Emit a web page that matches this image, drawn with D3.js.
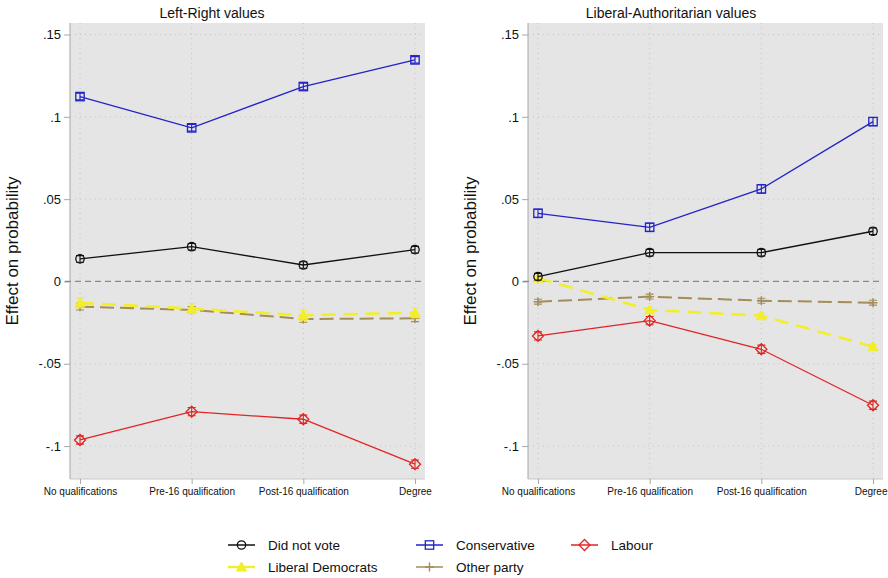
<!DOCTYPE html>
<html>
<head>
<meta charset="utf-8">
<script src="https://cdn.jsdelivr.net/npm/d3@7"></script>
<style>
  html, body { margin: 0; padding: 0; background: #fff; }
  svg { display: block; font-family: "Liberation Sans", Arial, Helvetica, sans-serif; }
</style>
</head>
<body>
<svg id="chart" width="888" height="578"></svg>
<script>
// Education categories along the x axis
const categories = ["No qualifications", "Pre-16 qualification", "Post-16 qualification", "Degree"];
const yTicks = [-0.1, -0.05, 0, 0.05, 0.1, 0.15];
const yTickLabels = ["-.1", "-.05", "0", ".05", ".1", ".15"];
const panelTitles = ["Left-Right values", "Liberal-Authoritarian values"];
const seriesNames = ["Did not vote", "Conservative", "Labour", "Liberal Democrats", "Other party"];

// Left-Right values: effect on probability by party
const lrDidNotVote = [0.0137, 0.0211, 0.0100, 0.0193];
const lrConservative = [0.1123, 0.0933, 0.1184, 0.1346];
const lrLabour = [-0.0963, -0.0791, -0.0837, -0.1110];
const lrLibDem = [-0.0130, -0.0165, -0.0205, -0.0190];
const lrOther = [-0.0153, -0.0173, -0.0228, -0.0224];

// Liberal-Authoritarian values: effect on probability by party
const laDidNotVote = [0.0029, 0.0175, 0.0175, 0.0305];
const laConservative = [0.0414, 0.0329, 0.0562, 0.0971];
const laLabour = [-0.0331, -0.0238, -0.0412, -0.0752];
const laLibDem = [0.0020, -0.0173, -0.0208, -0.0396];
const laOther = [-0.0123, -0.0092, -0.0117, -0.0129];

// 95% confidence half-widths
const lrCI = [0.0020, 0.0020, 0.0025, 0.0030, 0.0020];
const laCI = [0.0020, 0.0025, 0.0025, 0.0015, 0.0015];

const styles = {
  "Did not vote":      { color: "#111111", symbol: "circle",   dash: null,    width: 1.3 },
  "Conservative":      { color: "#2323c8", symbol: "square",   dash: null,    width: 1.3 },
  "Labour":            { color: "#e02424", symbol: "diamond",  dash: null,    width: 1.3 },
  "Liberal Democrats": { color: "#f2ee2a", symbol: "triangle", dash: "14,8",  width: 2.6 },
  "Other party":       { color: "#a48d58", symbol: "plus",     dash: "14,6",  width: 2.0 }
};

const panels = [
  { title: panelTitles[0], left: 70, right: 425, titleX: 212,
    series: [lrDidNotVote, lrConservative, lrLabour, lrLibDem, lrOther], ci: lrCI },
  { title: panelTitles[1], left: 528, right: 883, titleX: 671,
    series: [laDidNotVote, laConservative, laLabour, laLibDem, laOther], ci: laCI }
];

const svg = d3.select("#chart");
const width = +svg.attr("width");
const plotTop = 23, plotBottom = 479;
const y = d3.scaleLinear().domain([-0.12, 0.157]).range([plotBottom, plotTop]);

function drawMarker(g, sym, cx, cy, color) {
  if (sym === "circle") {
    g.append("circle").attr("cx", cx).attr("cy", cy).attr("r", 4.2)
      .attr("fill", "none").attr("stroke", color).attr("stroke-width", 1.3);
  } else if (sym === "square") {
    g.append("rect").attr("x", cx - 4.2).attr("y", cy - 4.2).attr("width", 8.4).attr("height", 8.4)
      .attr("fill", "none").attr("stroke", color).attr("stroke-width", 1.3);
  } else if (sym === "diamond") {
    g.append("path").attr("d", `M${cx},${cy - 5.5}L${cx + 5.5},${cy}L${cx},${cy + 5.5}L${cx - 5.5},${cy}Z`)
      .attr("fill", "none").attr("stroke", color).attr("stroke-width", 1.3);
  } else if (sym === "triangle") {
    g.append("path").attr("d", `M${cx},${cy - 5}L${cx + 5},${cy + 4}L${cx - 5},${cy + 4}Z`)
      .attr("fill", color).attr("stroke", color).attr("stroke-width", 1);
  } else if (sym === "plus") {
    g.append("path").attr("d", `M${cx - 4.5},${cy}H${cx + 4.5}M${cx},${cy - 4.5}V${cy + 4.5}`)
      .attr("fill", "none").attr("stroke", color).attr("stroke-width", 1.4);
  }
}

panels.forEach(p => {
  const x = d3.scalePoint().domain(categories).range([p.left + 10, p.right - 10]);
  const g = svg.append("g");

  // plot region
  g.append("rect").attr("x", p.left).attr("y", plotTop)
    .attr("width", p.right - p.left).attr("height", plotBottom - plotTop).attr("fill", "#e5e5e5");

  // dotted grid
  g.append("g").selectAll("line").data(yTicks).join("line")
    .attr("x1", p.left).attr("x2", p.right)
    .attr("y1", d => y(d)).attr("y2", d => y(d))
    .attr("stroke", d => d === 0 ? "none" : "#c4c4c4").attr("stroke-width", 1)
    .attr("stroke-dasharray", "1,4");
  g.append("g").selectAll("line").data(categories).join("line")
    .attr("x1", d => x(d)).attr("x2", d => x(d))
    .attr("y1", plotTop).attr("y2", plotBottom)
    .attr("stroke", "#c4c4c4").attr("stroke-width", 1).attr("stroke-dasharray", "1,4");

  // y axis
  const yAxis = d3.axisLeft(y).tickValues(yTicks).tickSize(6).tickPadding(3)
    .tickFormat((d, i) => yTickLabels[i]);
  const ya = g.append("g").attr("transform", `translate(${p.left},0)`).call(yAxis);
  ya.select(".domain").attr("stroke", "#a8a8a8").attr("d", `M0,${plotTop}V${plotBottom}`);
  ya.selectAll(".tick line").attr("stroke", "#a8a8a8");
  ya.selectAll(".tick text").attr("font-size", 13).attr("fill", "#111")
    .attr("font-family", "Liberation Sans, Arial, sans-serif");

  // x axis
  const xAxis = d3.axisBottom(x).tickSize(5).tickPadding(4);
  const xa = g.append("g").attr("transform", `translate(0,${plotBottom})`).call(xAxis);
  xa.select(".domain").attr("stroke", "#c8c8c8").attr("d", `M${p.left},0H${p.right}`);
  xa.selectAll(".tick line").attr("stroke", "#a8a8a8");
  xa.selectAll(".tick text").attr("font-size", 10).attr("fill", "#111")
    .attr("font-family", "Liberation Sans, Arial, sans-serif");
  // keep the last label inside the page
  xa.selectAll(".tick").each(function (d) {
    const t = d3.select(this).select("text");
    const w = t.node().getComputedTextLength();
    const over = x(d) + w / 2 - (width - 1);
    if (over > 0) t.attr("dx", -over);
  });

  // zero reference line
  g.append("line").attr("x1", p.left - 5).attr("x2", p.right)
    .attr("y1", y(0)).attr("y2", y(0))
    .attr("stroke", "#8a8a8a").attr("stroke-width", 1.2).attr("stroke-dasharray", "6,4");

  // titles
  g.append("text").attr("x", p.titleX).attr("y", 18).attr("text-anchor", "middle")
    .attr("font-size", 14).attr("fill", "#111").text(p.title);
  g.append("text").attr("transform", `translate(${p.left - 52},${(plotTop + plotBottom) / 2}) rotate(-90)`)
    .attr("text-anchor", "middle").attr("font-size", 17).attr("fill", "#111")
    .text("Effect on probability");

  // series (dashed lines underneath the solid ones)
  const order = [4, 3, 0, 1, 2];
  const line = d3.line().x((d, i) => x(categories[i])).y(d => y(d));
  order.forEach(si => {
    const name = seriesNames[si];
    const st = styles[name];
    const vals = p.series[si];
    const sg = g.append("g");
    sg.append("path").datum(vals).attr("d", line)
      .attr("fill", "none").attr("stroke", st.color).attr("stroke-width", st.width)
      .attr("stroke-dasharray", st.dash);
    vals.forEach((v, i) => {
      const cx = x(categories[i]), cy = y(v);
      const h = p.ci[si];
      const y0 = y(v - h), y1 = y(v + h);
      sg.append("path")
        .attr("d", `M${cx},${y1}V${y0}M${cx - 4},${y1}H${cx + 4}M${cx - 4},${y0}H${cx + 4}`)
        .attr("stroke", st.color).attr("stroke-width", 1.1).attr("fill", "none");
      drawMarker(sg, st.symbol, cx, cy, st.color);
    });
  });
});

// legend
const legendItems = [
  { name: seriesNames[0], x: 228, y: 545 },
  { name: seriesNames[1], x: 416, y: 545 },
  { name: seriesNames[2], x: 571, y: 545 },
  { name: seriesNames[3], x: 228, y: 567 },
  { name: seriesNames[4], x: 416, y: 567 }
];
const lg = svg.append("g");
legendItems.forEach(it => {
  const st = styles[it.name];
  const item = lg.append("g");
  item.append("line").attr("x1", it.x).attr("x2", it.x + 27).attr("y1", it.y).attr("y2", it.y)
    .attr("stroke", st.color).attr("stroke-width", st.symbol === "triangle" ? 2.4 : 1.5);
  drawMarker(item, st.symbol, it.x + 13.5, it.y, st.color);
  item.append("text").attr("x", it.x + 40).attr("y", it.y + 5).attr("font-size", 13.5)
    .attr("fill", "#111").text(it.name);
});
</script>
</body>
</html>
